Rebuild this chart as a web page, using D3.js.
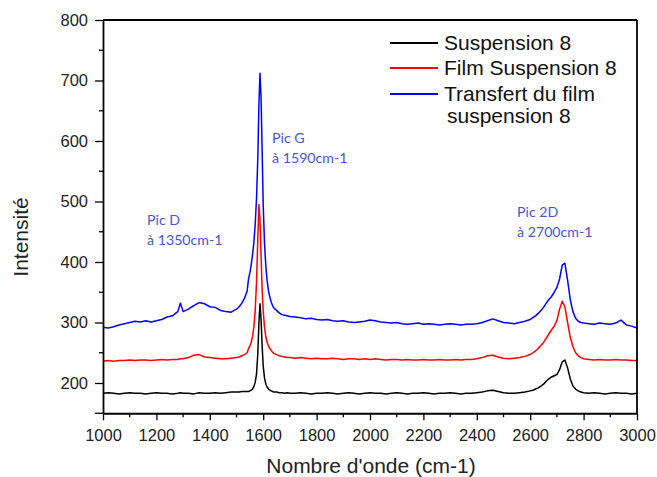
<!DOCTYPE html>
<html><head><meta charset="utf-8">
<script src="https://cdn.jsdelivr.net/npm/d3@7"></script>
<style>body{margin:0;background:#fff}svg{display:block}</style>
</head><body>
<script>
// ---- data ----
const wavenumbers = [
 1000,1020,1040,1060,1080,1100,1120,1140,1160,1180,1200,1220,1240,1260,1280,1290,1300,1320,1340,1360,1380,1400,1420,1440,1460,1480,1500,
 1510,1520,1530,1540,
 1545,1550,1555,1560,1565,1570,1575,1580,1584,1588,1592,1596,1600,1605,1610,1615,1620,1625,1630,1635,1640,
 1650,1660,1670,1680,1690,1700,
 1720,1740,1760,1780,1800,1820,1840,1860,1880,1900,1920,1940,1960,1980,2000,2020,2040,2060,2080,2100,2120,2140,2160,2180,2200,2220,2240,2260,2280,2300,2320,2340,2360,2380,2400,2420,2440,2460,2480,2500,2520,2540,2560,2580,2600,
 2610,2620,2630,2640,2650,2660,2670,2680,2690,2700,2710,2720,2730,2740,2750,2760,2770,2780,2790,2800,
 2820,2840,2860,2880,2900,2920,2940,2960,2980,3000];

const suspension8 = [
 183,184,183,182,183,184,183,183,182,183,184,183,183,182,183,184,183,183,182,184,183,183,184,183,184,185,185,
 185,186,186,186,
 186,187,188,190,194,201,215,250,300,331,305,262,228,208,198,193,190,188,187,186,185,
 185,184,184,183,184,183,
 183,184,183,182,183,183,184,183,182,183,184,183,182,183,184,183,183,182,183,184,183,182,183,183,184,183,182,183,183,184,183,182,183,183,184,185,187,188,186,184,183,183,184,185,187,
 188,190,192,195,198,203,207,210,212,214,222,235,238,225,207,195,190,187,185,184,
 183,184,183,182,183,184,183,183,182,183];

const filmSuspension8 = [
 236,237,236,237,237,238,237,238,238,237,238,239,238,239,239,240,240,242,246,247,243,242,241,240,240,241,242,
 243,245,247,250,
 257,261,267,277,292,319,367,442,495,468,410,355,319,292,276,267,261,257,254,251,249,
 247,245,244,243,242,242,
 241,242,241,240,241,240,240,241,240,239,240,240,239,240,239,240,239,238,239,239,238,239,238,238,239,238,238,239,238,238,239,238,239,239,240,242,245,246,243,241,240,241,242,244,247,
 250,253,257,262,267,274,281,288,294,303,322,335,326,300,276,260,250,245,242,240,
 239,238,239,238,238,239,238,238,237,237];

const transfertFilm = [
 292,291,293,296,298,300,302,301,303,301,303,305,309,311,318,332,318,322,328,333,331,326,325,320,318,317,322,
 326,332,340,352,
 372,382,395,412,432,462,505,575,660,712,672,585,495,430,392,368,352,342,334,328,324,
 320,316,313,312,311,310,
 309,308,306,307,305,304,305,303,302,303,301,300,301,302,304,303,301,300,299,300,298,297,298,299,297,298,297,296,297,298,297,296,297,297,298,300,303,306,303,300,299,298,300,302,305,
 308,311,315,320,325,332,338,343,350,358,372,395,398,370,338,318,307,302,300,299,
 298,297,299,298,297,299,304,296,294,291];

const seriesNames = ["Suspension 8", "Film Suspension 8", "Transfert du film"];
const seriesNameLine2 = ["", "", "suspension 8"];
const seriesColors = ["#000000", "#ff0000", "#0000ff"];
const xTicks = [1000,1200,1400,1600,1800,2000,2200,2400,2600,2800,3000];
const yTicks = [200,300,400,500,600,700,800];
const annotations = [
  ["Pic D", "à 1350cm-1"],
  ["Pic G", "à 1590cm-1"],
  ["Pic 2D", "à 2700cm-1"]
];

// ---- drawing ----
const W = 657, H = 477;
const svg = d3.select("body").append("svg").attr("width", W).attr("height", H)
  .style("font-family", "'Liberation Sans', Arial, sans-serif");
svg.append("rect").attr("width", W).attr("height", H).attr("fill", "#fff");

const x = d3.scaleLinear().domain([1000, 3000]).range([103, 637]);
const y = d3.scaleLinear().domain([150, 800]).range([413.25, 20]);

const series = [suspension8, filmSuspension8, transfertFilm];
const line = d3.line().x((d, i) => x(wavenumbers[i])).y(d => y(d));
series.forEach((s, k) => {
  svg.append("path").datum(s).attr("d", line)
    .attr("fill", "none").attr("stroke", seriesColors[k])
    .attr("stroke-width", 1.5).attr("stroke-linejoin", "round");
});

// axes
const minorX = d3.range(1100, 3000, 200);
const minorY = d3.range(150, 800, 100);
const gx = svg.append("g").attr("transform", "translate(0,413.25)");
gx.call(d3.axisBottom(x).tickValues(xTicks).tickSize(7).tickFormat(d3.format("d")).tickSizeOuter(0));
minorX.forEach(v => gx.append("line").attr("x1", x(v)).attr("x2", x(v)).attr("y1", 0).attr("y2", 4).attr("stroke", "#000").attr("stroke-width", 1.3));
gx.select(".domain").attr("stroke-width", 1.8);
gx.selectAll(".tick line").attr("stroke-width", 1.3);
gx.selectAll(".tick text").attr("font-size", 16.5).attr("fill", "#222").attr("y", 10).attr("dy", "1.1em");

const gy = svg.append("g").attr("transform", "translate(103,0)");
gy.call(d3.axisLeft(y).tickValues(yTicks).tickSize(8).tickFormat(d3.format("d")).tickSizeOuter(0));
minorY.forEach(v => gy.append("line").attr("x1", 0).attr("x2", v === 150 ? -8 : -4).attr("y1", y(v)).attr("y2", y(v)).attr("stroke", "#000").attr("stroke-width", 1.3));
gy.select(".domain").attr("stroke-width", 1.8);
gy.selectAll(".tick line").attr("stroke-width", 1.3);
gy.selectAll(".tick text").attr("font-size", 16.5).attr("fill", "#222").attr("x", -15);

// frame top and right
svg.append("line").attr("x1", x(1000)).attr("x2", x(3000)).attr("y1", y(800)).attr("y2", y(800)).attr("stroke", "#000").attr("stroke-width", 1.8);
svg.append("line").attr("x1", x(3000)).attr("x2", x(3000)).attr("y1", y(800)).attr("y2", y(150)).attr("stroke", "#000").attr("stroke-width", 1.8);

// axis titles
svg.append("text").attr("x", 371).attr("y", 473).attr("text-anchor", "middle")
  .attr("font-size", 21).attr("fill", "#222").text("Nombre d'onde (cm-1)");
svg.append("text").attr("transform", "translate(28,237) rotate(-90)").attr("text-anchor", "middle")
  .attr("font-size", 21).attr("fill", "#222").text("Intensité");

// legend
const legRows = [43, 68, 94];
seriesNames.forEach((n, k) => {
  svg.append("line").attr("x1", 390).attr("x2", 438).attr("y1", legRows[k]).attr("y2", legRows[k])
    .attr("stroke", seriesColors[k]).attr("stroke-width", 1.8);
  svg.append("text").attr("x", 444).attr("y", legRows[k] + 7).attr("font-size", 21).attr("fill", "#111").text(n);
  if (seriesNameLine2[k]) svg.append("text").attr("x", 447).attr("y", legRows[k] + 29).attr("font-size", 21).attr("fill", "#111").text(seriesNameLine2[k]);
});

// annotations
const annPos = [[147, 225], [272, 143], [517, 217]];
annotations.forEach((a, k) => {
  const t = svg.append("text").attr("font-family", "Lato, 'Open Sans', sans-serif").attr("font-size", 14.2).attr("fill", "#4a57d0");
  t.append("tspan").attr("x", annPos[k][0]).attr("y", annPos[k][1]).text(a[0]);
  t.append("tspan").attr("x", annPos[k][0]).attr("y", annPos[k][1] + 20).text(a[1]);
});
</script>
</body></html>
